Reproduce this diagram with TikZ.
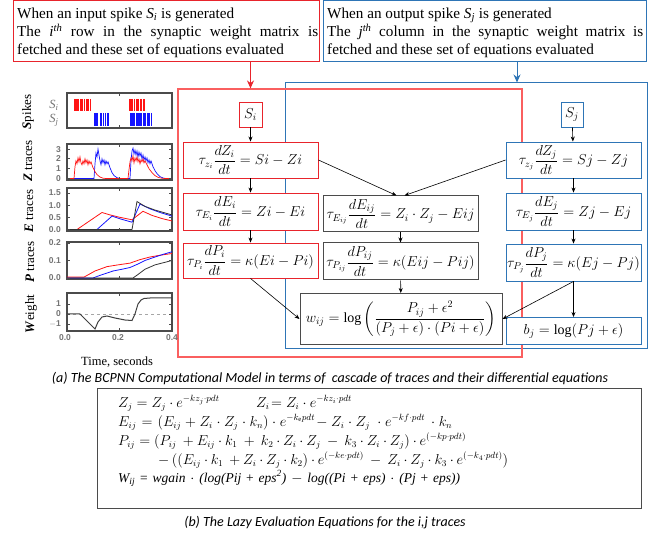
\documentclass[tikz,border=0pt]{standalone}
\usepackage{amsmath}
\usepackage{fontspec}
\setmainfont{Liberation Serif}
\newfontfamily\capfont{Carlito}
\newfontfamily\tickfont{Liberation Sans}
\usetikzlibrary{arrows.meta}
\definecolor{rd}{RGB}{232,36,44}
\definecolor{rdl}{RGB}{250,95,95}
\definecolor{bl}{RGB}{46,117,182}
\definecolor{gr}{RGB}{75,75,75}
\definecolor{tk}{RGB}{115,115,115}
\definecolor{pr}{RGB}{255,20,20}
\definecolor{pb}{RGB}{20,20,255}
\begin{document}
\begin{tikzpicture}[x=1pt,y=-1pt,
  eqfont/.style={font=\fontsize{14}{16}\selectfont},
  redbox/.style={draw=rd,line width=0.9pt,fill=white,inner sep=0pt,align=center,eqfont},
  bluebox/.style={draw=bl,line width=0.9pt,fill=white,inner sep=0pt,align=center,eqfont},
  blkbox/.style={draw=gr,line width=1pt,fill=white,inner sep=0pt,align=center,eqfont},
  arr/.style={-{Stealth[length=5pt,width=4pt]},line width=0.6pt,black},
  panelframe/.style={draw=gr,line width=1.1pt},
  ticklab/.style={font=\tickfont\bfseries\fontsize{8.5}{9}\selectfont,text=tk,inner sep=0pt},
  ylab/.style={rotate=90,font=\fontsize{13}{14}\selectfont,inner sep=0pt},
  bline/.style={anchor=base west,inner sep=0pt,font=\fontsize{13.5}{15}\selectfont},
  topline/.style={anchor=base west,inner sep=0pt,font=\fontsize{15.2}{17}\selectfont},
  captext/.style={font=\capfont\itshape\fontsize{14}{15}\selectfont,inner sep=0pt}]
\useasboundingbox (0,0) rectangle (659,537);

% ---------- top text boxes ----------
\node[draw=rd,line width=1pt,minimum width=306,minimum height=61,inner sep=0pt] (tl) at (166,31.5) {};
\node[topline] (tl1) at (17,18.5) {When an input spike \textit{S\textsubscript{i}} is generated};
\node[topline] (tl2) at (17,36.5) {\makebox[301pt][s]{The \textit{i\textsuperscript{th}} row in the synaptic weight matrix is}};
\node[topline] (tl3) at (17,54.5) {fetched and these set of equations evaluated};

\node[draw=bl,line width=1pt,minimum width=323,minimum height=61,inner sep=0pt] (tr) at (484.5,31.5) {};
\node[topline] (tr1) at (327,18.5) {When an output spike \textit{S\textsubscript{j}} is generated};
\node[topline] (tr2) at (327,36.5) {\makebox[316pt][s]{The \textit{j\textsuperscript{th}} column in the synaptic weight matrix is}};
\node[topline] (tr3) at (327,54.5) {fetched and these set of equations evaluated};

% ---------- big boxes ----------
\node[draw=bl,line width=1pt,minimum width=362,minimum height=266,inner sep=0pt] (bigb) at (466,216) {};
\node[draw=rdl,line width=1.1pt,minimum width=344,minimum height=268,inner sep=0pt] (bigr) at (350,223) {};

% ---------- equation boxes ----------
\node[redbox,minimum width=23,minimum height=25] (si) at (250.5,114.5) {$S_i$};
\node[redbox,minimum width=135,minimum height=36] (zi) at (250.5,160) {$\tau_{z_i}\dfrac{dZ_i}{dt}=Si-Zi$};
\node[redbox,minimum width=135,minimum height=37] (ei) at (250.5,211.5) {$\tau_{E_i}\dfrac{dE_i}{dt}=Zi-Ei$};
\node[redbox,minimum width=135,minimum height=35] (pi) at (250.5,260.5) {$\tau_{P_i}\dfrac{dP_i}{dt}=\kappa(Ei-Pi)$};

\node[blkbox,minimum width=155,minimum height=36] (eij) at (400.5,214) {$\tau_{E_{ij}}\dfrac{dE_{ij}}{dt}=Z_i\cdot Z_j-Eij$};
\node[blkbox,minimum width=155,minimum height=37] (pij) at (400.5,261.5) {$\tau_{P_{ij}}\dfrac{dP_{ij}}{dt}=\kappa(Eij-Pij)$};
\node[blkbox,minimum width=202,minimum height=51] (wij) at (401,319) {$w_{ij}=\log\left(\dfrac{P_{ij}+\epsilon^2}{(P_j+\epsilon)\cdot(Pi+\epsilon)}\right)$};

\node[bluebox,minimum width=22,minimum height=25] (sj) at (572,114.5) {$S_j$};
\node[bluebox,minimum width=135,minimum height=36] (zj) at (573.5,160) {$\tau_{z_j}\dfrac{dZ_j}{dt}=Sj-Zj$};
\node[bluebox,minimum width=135,minimum height=37] (ej) at (573.5,211.5) {$\tau_{E_j}\dfrac{dE_j}{dt}=Zj-Ej$};
\node[bluebox,minimum width=135,minimum height=37] (pj) at (573.5,262.5) {$\tau_{P_j}\dfrac{dP_j}{dt}=\kappa(Ej-Pj)$};
\node[bluebox,minimum width=135,minimum height=27] (bj) at (573.5,331) {$b_j=\log(Pj+\epsilon)$};

% ---------- connectors ----------
\draw[rd,line width=1pt,-{Stealth[length=8pt,width=7pt]}] (tl.south -| si.north) -- (bigr.north -| si.north);
\coordinate (tra) at (517,62);
\draw[bl,line width=1pt,-{Stealth[length=8pt,width=7pt]}] (tra) -- (bigb.north -| tra);
\draw[arr] (si) -- (zi);
\draw[arr] (zi) -- (ei);
\draw[arr] (ei) -- (pi);
\draw[arr] (sj) -- (zj);
\draw[arr] (zj) -- (ej);
\draw[arr] (ej) -- (pj);
\draw[arr] (pj) -- (bj);
\draw[arr] (eij) -- (pij);
\draw[arr] (pij) -- (wij);
\draw[arr] (zi.east) -- ([xshift=-4pt]eij.north);
\draw[arr] (zj.west) -- ([xshift=4pt]eij.north);
\draw[arr] (pi.south) -- (wij.west);
\draw[arr] (pj.south) -- (wij.east);

% ---------- plots ----------
% Spikes
\draw[panelframe] (67,93) rectangle (172,128);
\foreach \x in {74,75,76,77,78.2,80,81,82.3,84,86.5,87.5,88.5,90.3,129,130,131,132.5,134,136,137,138,140,141.5,143,144.5}
  \draw[pr,line width=0.8pt] (\x,99) -- (\x,111);
\foreach \x in {94,95,96,97.5,100,101.5,103,105.5,107,108,130,131,132,133,134.5,136,137,138,139,140,141.5,143,144,145.5,147,148,149.5,151}
  \draw[pb,line width=0.8pt] (\x,113) -- (\x,126);
\draw[gr,line width=0.8pt] (119.5,93) -- (119.5,96) (119.5,128) -- (119.5,125);
\node[text=tk,font=\fontsize{12.5}{12}\selectfont,inner sep=0pt] (lsi) at (54,105) {\textit{S\textsubscript{i}}};
\node[text=tk,font=\fontsize{12.5}{12}\selectfont,inner sep=0pt] (lsj) at (54,120) {\textit{S\textsubscript{j}}};

% Z traces
\draw[panelframe] (67,144) rectangle (172,180);
\begin{scope}[shift={(0,178.5)},y=9.8pt]
\draw[pb,line width=0.7pt] plot coordinates {(67,0) (94,0) (95,1.5) (96,2.6) (97,2.2) (98,3.0) (99,2.4) (100,1.8) (101,1.4) (102,2.0) (103,1.6) (104,1.9) (105,1.4) (106,1.8) (107,1.5) (108,1.7) (110,1.1) (112,0.6) (114,0.3) (117,0.08) (120,0) (130,0) (131,1.8) (132,2.8) (133,3.1) (134,2.5) (135,2.9) (136,2.4) (137,2.8) (138,2.2) (139,2.7) (140,2.3) (141,2.6) (142,2.0) (143,2.4) (144,1.9) (145,2.2) (146,1.8) (147,2.1) (148,1.6) (149,1.9) (150,1.5) (151,1.8) (153,1.2) (155,0.8) (157,0.5) (160,0.2) (163,0.05) (166,0) (172,0)};
\draw[pr,line width=0.7pt] plot coordinates {(67,0) (74,0) (75,1.2) (76,1.8) (77,1.5) (78,2.1) (79,1.7) (80,2.2) (81,1.6) (82,1.4) (83,1.8) (84,1.5) (85,2.0) (86,1.6) (87,1.9) (88,1.4) (89,1.8) (90,1.5) (91,1.7) (93,1.1) (95,0.7) (97,0.4) (100,0.15) (103,0.03) (106,0) (128,0) (129,0.9) (130,1.7) (131,2.1) (132,1.8) (133,2.3) (134,1.6) (135,2.1) (136,1.8) (137,2.2) (138,1.7) (139,2.0) (140,1.5) (141,1.9) (142,1.7) (143,2.0) (144,1.6) (145,1.8) (147,1.4) (149,1.0) (152,0.6) (155,0.3) (158,0.12) (162,0.02) (166,0) (172,0)};
\foreach \v in {0,1,2,3} {
  \draw[gr,line width=0.8pt] (67,\v) -- (70,\v) (172,\v) -- (169,\v);
  \node[ticklab,anchor=east] at (61,\v) {\v};}
\end{scope}
\draw[gr,line width=0.8pt] (119.5,144) -- (119.5,147) (119.5,180) -- (119.5,177);

% E traces
\draw[panelframe] (67,188) rectangle (172,231);
\begin{scope}[shift={(0,229.5)},y=24.3pt]
\draw[pr,line width=0.8pt] plot coordinates {(67,0) (77,0) (102,0.7) (110,0.6) (120,0.5) (132,0.4) (143,0.75) (152,0.58) (162,0.45) (172,0.35)};
\draw[pb,line width=0.8pt] plot coordinates {(67,0) (97,0) (112,0.55) (120,0.44) (132,0.3) (140,1.05) (150,0.85) (160,0.7) (172,0.55)};
\draw[black!80,line width=0.8pt] plot coordinates {(67,0) (132,0) (137,1.15) (145,0.95) (155,0.8) (172,0.6)};
\foreach \v/\l in {0/0.0,0.5/0.5,1/1.0,1.5/1.5} {
  \draw[gr,line width=0.8pt] (67,\v) -- (70,\v) (172,\v) -- (169,\v);
  \node[ticklab,anchor=east] at (61,\v) {\l};}
\end{scope}
\draw[gr,line width=0.8pt] (119.5,188) -- (119.5,191) (119.5,231) -- (119.5,228);

% P traces
\draw[panelframe] (67,242) rectangle (172,279);
\begin{scope}[shift={(0,278)},y=175pt]
\draw[pr,line width=0.8pt] plot coordinates {(67,0.005) (84,0.005) (95,0.04) (107,0.065) (118,0.075) (130,0.085) (140,0.105) (150,0.12) (160,0.13) (172,0.14)};
\draw[pb,line width=0.8pt] plot coordinates {(67,0) (93,0) (100,0.015) (113,0.04) (122,0.05) (130,0.06) (138,0.08) (145,0.1) (155,0.12) (163,0.135) (172,0.15)};
\draw[black!80,line width=0.8pt] plot coordinates {(67,0) (133,0) (138,0.02) (145,0.05) (155,0.075) (172,0.1)};
\foreach \v/\l in {0/0.0,0.1/0.1,0.2/0.2} {
  \draw[gr,line width=0.8pt] (67,\v) -- (70,\v) (172,\v) -- (169,\v);
  \node[ticklab,anchor=east] at (61,\v) {\l};}
\end{scope}
\draw[gr,line width=0.8pt] (119.5,242) -- (119.5,245) (119.5,279) -- (119.5,276);

% Weight
\draw[panelframe] (67,293) rectangle (172,331);
\begin{scope}[shift={(0,314)},y=10pt]
\draw[black!35,dashed,line width=0.8pt] (67,0) -- (172,0);
\draw[black!75,line width=1pt] plot coordinates {(67,0) (80,0) (88,-0.8) (95,-1.5) (98,-0.8) (102,-0.3) (107,-0.2) (115,-0.4) (125,-0.6) (132,-0.65) (135,0) (138,1.0) (141,1.4) (144,1.55) (150,1.6) (172,1.6)};
\foreach \v/\l in {-1/$-$1,0/0,1/1} {
  \draw[gr,line width=0.8pt] (67,\v) -- (70,\v) (172,\v) -- (169,\v);
  \node[ticklab,anchor=east] at (61,\v) {\l};}
\end{scope}
\draw[gr,line width=0.8pt] (119.5,293) -- (119.5,296) (119.5,331) -- (119.5,328);
\node[ticklab] (x0) at (65,338) {0.0};
\node[ticklab] (x1) at (118,338) {0.2};
\node[ticklab] (x2) at (172,338) {0.4};
\node[font=\fontsize{12.5}{13}\selectfont,inner sep=0pt] (xl) at (117,362) {Time, seconds};

\node[ylab] (ys) at (28,112) {\textbf{\textit{S}}pikes};
\node[ylab] (yz) at (28,161) {\textbf{\textit{Z}} traces};
\node[ylab] (ye) at (29,211) {\textbf{\textit{E}} traces};
\node[ylab] (yp) at (30,262) {\textbf{\textit{P}} traces};
\node[ylab] (yw) at (31,314) {\textbf{\textit{W}}eight};

% ---------- captions ----------
\node[captext] (capa) at (330,379) {(a) The BCPNN Computational Model in terms of\ \ cascade of traces and their differential equations};

\draw[gr,line width=1pt] (97,389) rectangle (641,508);
\node[bline] (e1) at (118,407) {$Z_j = Z_j\cdot e^{-kz_j\cdot pdt}$};
\node[bline] (e1b) at (256,407) {$Z_i\!= Z_i\cdot e^{-kz_i\cdot pdt}$};
\node[bline] (e2) at (118,426) {\makebox[334pt][s]{$E_{ij} = (E_{ij} + Z_i\cdot Z_j\cdot k_n)\cdot e^{-k_{\textsc{e}}pdt}\!- Z_i\cdot Z_j\ \cdot e^{-kf\cdot pdt}\,\cdot k_n$}};
\node[bline] (e3) at (118,445) {\makebox[348pt][s]{$P_{ij} = (P_{ij}\ + E_{ij}\cdot k_1\ +\ k_2\cdot Z_i\cdot Z_j\ -\ k_3\cdot Z_i\cdot Z_j)\cdot e^{(-kp\cdot pdt)}$}};
\node[bline] (e4) at (158,464) {\makebox[350pt][s]{$-\,((E_{ij}\cdot k_1\ + Z_i\cdot Z_j\cdot k_2)\cdot e^{(-ke\cdot pdt)}\ -\ Z_i\cdot Z_j\cdot k_3\cdot e^{(-k_4\cdot pdt)})$}};
\node[bline] (e5) at (118,482) {\makebox[342pt][s]{\textit{W\textsubscript{ij}} = \textit{wgain} $\cdot$ \textit{(log(Pij} + \textit{eps\textsuperscript{2})} $-$ \textit{log((Pi} + \textit{eps)} $\cdot$ \textit{(Pj} + \textit{eps))}}};

\node[captext] (capb) at (325,523) {(b) The Lazy Evaluation Equations for the i,j traces};
\end{tikzpicture}
\end{document}
